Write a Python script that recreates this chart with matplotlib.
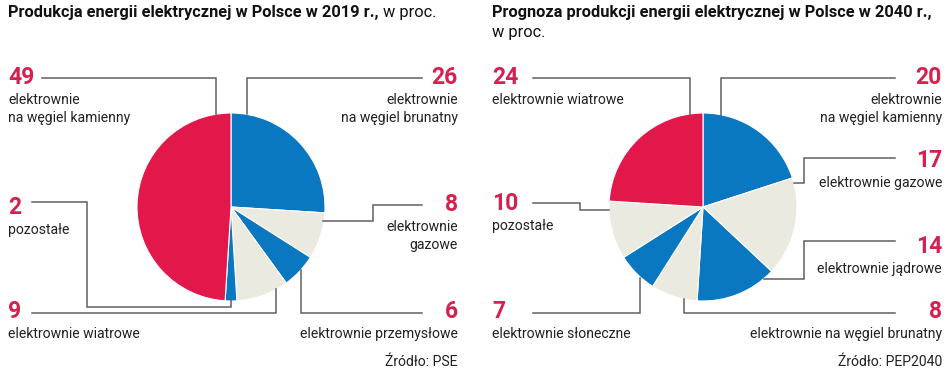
import matplotlib
matplotlib.use("Agg")
import matplotlib.pyplot as plt

W, H = 948, 370

RED = "#e2184a"
BLUE = "#0a77c1"
BEIGE = "#ebeae0"
NUM = "#d6204f"
LINE = "#606060"
TXT = "#222222"

plt.rcParams['font.family'] = ['Roboto', 'DejaVu Sans']

# 2019 (clockwise from top)
values_2019 = [26, 8, 6, 9, 2, 49]
labels_2019 = [["elektrownie", "na węgiel brunatny"], ["elektrownie", "gazowe"],
               ["elektrownie przemysłowe"], ["elektrownie wiatrowe"], ["pozostałe"],
               ["elektrownie", "na węgiel kamienny"]]
colors_2019 = [BLUE, BEIGE, BLUE, BEIGE, BLUE, RED]

# 2040 prognosis (clockwise from top)
values_2040 = [20, 17, 14, 8, 7, 10, 24]
labels_2040 = [["elektrownie", "na węgiel kamienny"], ["elektrownie gazowe"],
               ["elektrownie jądrowe"], ["elektrownie na węgiel brunatny"],
               ["elektrownie słoneczne"], ["pozostałe"], ["elektrownie wiatrowe"]]
colors_2040 = [BLUE, BEIGE, BLUE, BEIGE, BLUE, BEIGE, RED]

# label layout: x, number baseline, alignment, leader path (pixels, y down)
layout_2019 = [
    (458, 84, "right", [(422, 78), (247, 78), (247, 114)]),
    (458, 211, "right", [(422, 205), (373, 205), (373, 221), (323, 221)]),
    (458, 318, "right", [(422, 313), (301, 313), (301, 270)]),
    (8, 318, "left", [(32, 313), (276, 313), (276, 289)]),
    (8, 214, "left", [(32, 202), (87, 202), (87, 307), (231, 307), (231, 300)]),
    (8, 84, "left", [(42, 78), (216, 78), (216, 114)]),
]
layout_2040 = [
    (942, 84, "right", [(895, 78), (721, 78), (721, 115)]),
    (942, 167, "right", [(895, 158), (804, 158), (804, 183), (794, 183)]),
    (942, 253, "right", [(895, 241), (804, 241), (804, 279), (764, 279)]),
    (942, 318, "right", [(895, 313), (684, 313), (684, 299)]),
    (492, 318, "left", [(533, 313), (640, 313), (640, 278)]),
    (492, 210, "left", [(533, 203), (580, 203), (580, 210), (609, 210)]),
    (492, 84, "left", [(533, 78), (690, 78), (690, 114)]),
]

fig = plt.figure(figsize=(W / 100, H / 100), dpi=100)
ax = fig.add_axes([0, 0, 1, 1])


def draw_panel(values, labels, colors, layout, cx, cy, r):
    ax.pie(values, colors=colors, startangle=90, counterclock=False,
           center=(cx, H - cy), radius=r,
           wedgeprops=dict(edgecolor="white", linewidth=0.8))
    for v, lab, (x, yb, ha, path) in zip(values, labels, layout):
        ax.plot([p[0] for p in path], [H - p[1] for p in path], color=LINE, lw=1.1,
                solid_joinstyle="miter")
        ax.text(x, H - yb, str(v), ha=ha, va="baseline", color=NUM, fontsize=16.5,
                fontweight="bold")
        for i, line in enumerate(lab):
            ax.text(x, H - (yb + 20 + 18 * i), line, ha=ha, va="baseline",
                    color=TXT, fontsize=10.1)


draw_panel(values_2019, labels_2019, colors_2019, layout_2019, 231, 207, 94)
draw_panel(values_2040, labels_2040, colors_2040, layout_2040, 703, 207, 94)

ax.set_xlim(0, W)
ax.set_ylim(0, H)
ax.set_aspect("auto")
ax.axis("off")

# titles: bold part followed by regular part
renderer = fig.canvas.get_renderer()
t1 = ax.text(8, H - 17, "Produkcja energii elektrycznej w Polsce w 2019 r.,", ha="left",
             va="baseline", fontsize=11.8, fontweight="bold", color="#111111")
bb = t1.get_window_extent(renderer)
ax.text(bb.x1 + 4, H - 17, "w proc.", ha="left", va="baseline", fontsize=11.8, color="#111111")
ax.text(492, H - 17, "Prognoza produkcji energii elektrycznej w Polsce w 2040 r.,", ha="left",
        va="baseline", fontsize=11.8, fontweight="bold", color="#111111")
ax.text(492, H - 37, "w proc.", ha="left", va="baseline", fontsize=11.8, color="#111111")

ax.text(458, H - 366, "Źródło: PSE", ha="right", va="baseline", fontsize=10.1, color=TXT)
ax.text(942, H - 366, "Źródło: PEP2040", ha="right", va="baseline", fontsize=10.1, color=TXT)

fig.savefig("out.png", dpi=100, facecolor="white")
